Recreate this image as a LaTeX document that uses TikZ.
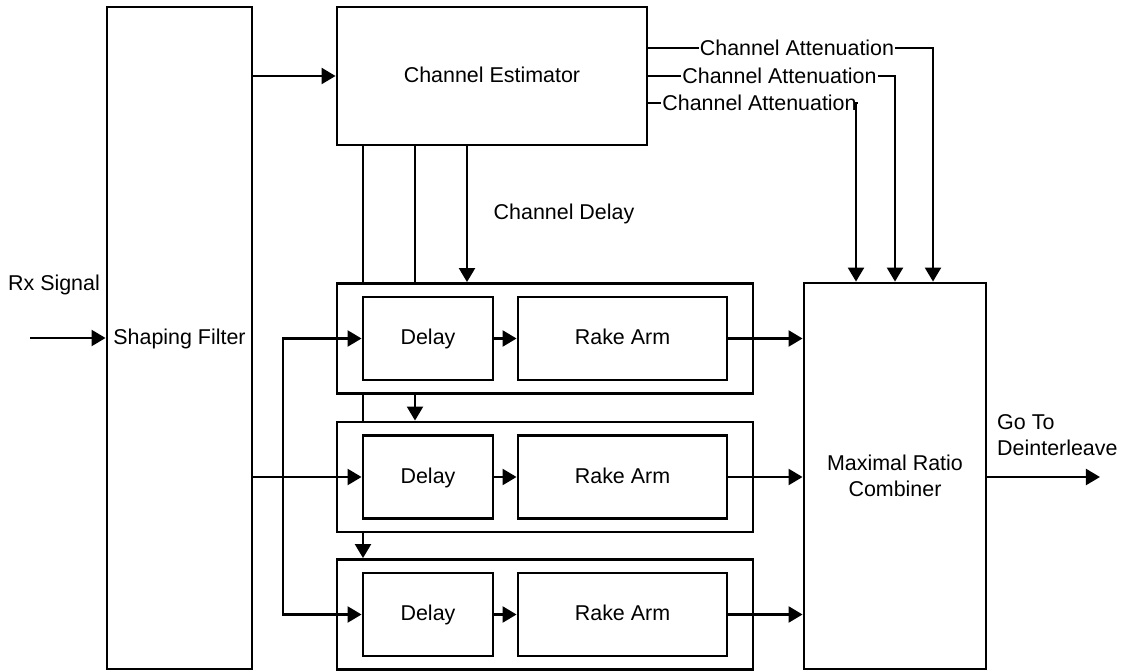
\documentclass[tikz,border=0pt]{standalone}
\usepackage{fontspec}
\setmainfont{Liberation Sans}
\usetikzlibrary{calc,arrows.meta}
\tikzset{
  blk/.style={draw=black, fill=white, line width=1.6pt, inner sep=0pt, align=center},
  oneline/.style={text height=0.72em, text depth=0pt},
  wire/.style={draw=black, line width=1.6pt},
  arrline/.style={wire, -{Triangle[length=8pt,width=9pt]}},
  lab/.style={inner sep=0.5pt},
}

\begin{document}
\begin{tikzpicture}[x=0.02cm, y=-0.02cm, font=\fontsize{12.2}{14.5}\selectfont]
  \useasboundingbox (0,0) rectangle (1134,672);
  % main blocks
  \node[blk, oneline, minimum width=2.9cm, minimum height=13.24cm] (filt) at (179.5,338) {Shaping Filter};
  \node[blk, oneline, minimum width=6.2cm, minimum height=2.76cm] (est) at (492,76) {Channel Estimator};
  \node[blk, minimum width=3.64cm, minimum height=7.72cm] (mrc) at (895,476) {Maximal Ratio\\Combiner};

  % three rake fingers: delay + rake arm inside a frame
  \foreach \i/\y in {1/338.5, 2/477, 3/614.5} {
    \node[blk, minimum width=8.32cm, minimum height=2.2cm] (arm\i) at (545,\y) {};
    \node[blk, oneline, minimum width=2.6cm, minimum height=1.66cm] (dly\i) at (428,\y) {Delay};
    \node[blk, oneline, minimum width=4.18cm, minimum height=1.66cm] (rake\i) at (622.5,\y) {Rake Arm};
    \draw[arrline] (dly\i) -- (rake\i);
    \draw[arrline] (rake\i.east) -- (rake\i.east -| mrc.west);
  }

  % input side
  \coordinate (rxin) at (30,338);
  \node[lab] (rxlab) at (54,285) {Rx Signal};
  \draw[arrline] (rxin) -- (rxin -| filt.west);
  \draw[arrline] (filt.east |- est.west) -- (est.west);
  \draw[arrline] (filt.east |- dly2.west) -- (dly2.west);
  \coordinate (split) at (283,477);
  \draw[arrline] (split) |- (dly1.west);
  \draw[arrline] (split) |- (dly3.west);

  % channel delay taps from the estimator
  \coordinate (tapA) at (363,0);
  \coordinate (tapB) at (415,0);
  \coordinate (tapC) at (467,0);
  \draw[wire] (tapA |- est.south) -- (tapA |- arm1.north);
  \draw[wire] (tapA |- arm1.south) -- (tapA |- arm2.north);
  \draw[arrline] (tapA |- arm2.south) -- (tapA |- arm3.north);
  \draw[wire] (tapB |- est.south) -- (tapB |- arm1.north);
  \draw[arrline] (tapB |- arm1.south) -- (tapB |- arm2.north);
  \draw[arrline] (tapC |- est.south) -- (tapC |- arm1.north);
  \node[lab] (dlylab) at (564,214) {Channel Delay};

  % channel attenuation to the combiner
  \foreach \i/\y/\xt/\xd in {1/48/797/933, 2/76/779.5/895, 3/103/759.5/856} {
    \node[lab] (att\i) at (\xt,\y) {Channel Attenuation};
    \coordinate (drop\i) at (\xd,0);
    \draw[wire] (est.east |- att\i) -- (att\i.west);
    \draw[arrline] (att\i.east) -| (drop\i |- mrc.north);
  }

  % output
  \coordinate (out) at (1100,477);
  \draw[arrline] (mrc.east |- out) -- (out);
  \node[lab, align=left, anchor=west] (outlab) at (996,435) {Go To\\Deinterleave};
\end{tikzpicture}
\end{document}
